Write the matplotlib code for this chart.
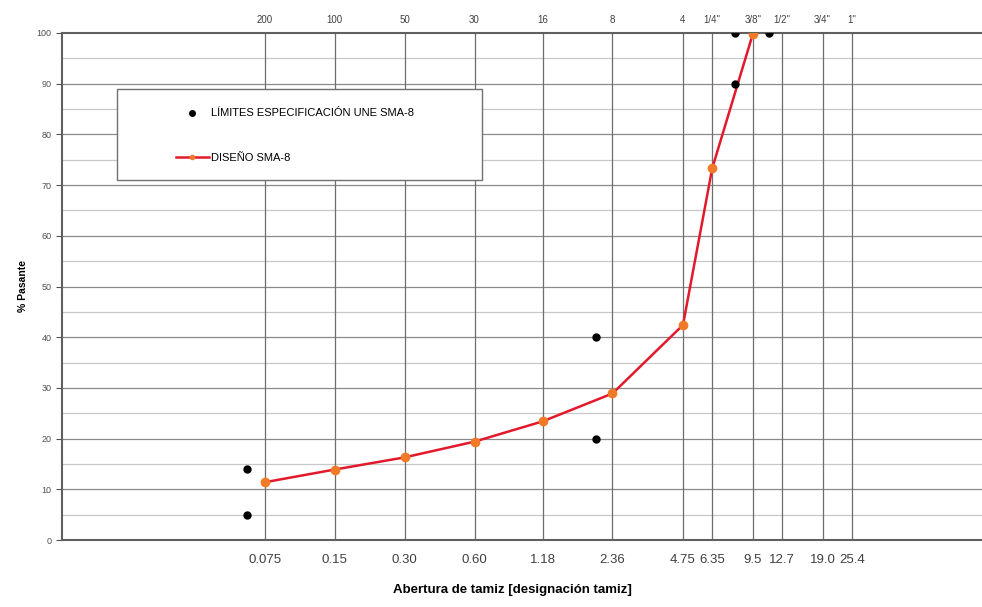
import matplotlib.pyplot as plt
from matplotlib.patches import Rectangle
from matplotlib.lines import Line2D

plt.rcParams['font.family'] = ['Liberation Sans', 'DejaVu Sans']

# sieve openings (mm) and names
sieves = [0.075, 0.15, 0.30, 0.60, 1.18, 2.36, 4.75, 6.35, 9.5, 12.7, 19.0, 25.4]
sieve_mm_labels = ["0.075", "0.15", "0.30", "0.60", "1.18", "2.36", "4.75", "6.35", "9.5", "12.7", "19.0", "25.4"]
sieve_names = ["200", "100", "50", "30", "16", "8", "4", '1/4"', '3/8"', '1/2"', '3/4"', '1"']

# design grading
design_x = [0.075, 0.15, 0.30, 0.60, 1.18, 2.36, 4.75, 6.35, 9.5]
design_y = [11.4, 13.9, 16.3, 19.4, 23.4, 28.9, 42.4, 73.3, 99.8]

# UNE SMA-8 specification limits
limit_x = [0.063, 0.063, 2.0, 2.0, 8.0, 8.0, 11.2]
limit_y = [5, 14, 20, 40, 90, 100, 100]

fig = plt.figure(figsize=(9.82, 6.07), dpi=100)
ax = fig.add_axes([62 / 982, 1 - 540 / 607, 1 - 62 / 982, (540 - 33) / 607])

ax.set_xscale('log')
ax.set_xlim(0.01, 92.4)
ax.set_ylim(0, 100)

# grid
for v in range(5, 100, 10):
    ax.axhline(v, color='#c8c8c8', lw=0.9, zorder=1)
for v in range(10, 100, 10):
    ax.axhline(v, color='#8a8a8a', lw=0.9, zorder=1)
for s in sieves:
    ax.axvline(s, color='#6e6e6e', lw=0.9, zorder=1)

ax.plot(design_x, design_y, color='#e3192b', lw=1.8, marker='o', ms=6,
        mfc='#f07a28', mec='#f07a28', zorder=3)
ax.plot(limit_x, limit_y, ls='none', marker='o', ms=5, color='black', zorder=4)

ax.set_yticks(range(0, 101, 10))
ax.tick_params(axis='y', labelsize=6.5, labelcolor='#505050', color='#505050',
               length=4, width=0.8, direction='out')
ax.set_xticks(sieves)
ax.set_xticklabels(sieve_mm_labels)
ax.minorticks_off()
ax.tick_params(axis='x', labelsize=9.5, labelcolor='#404040', length=0, pad=10)

ax.spines['right'].set_visible(False)
for side in ['left', 'bottom', 'top']:
    ax.spines[side].set_color('#606060')
    ax.spines[side].set_linewidth(1.5)

top = ax.secondary_xaxis('top')
top.set_xticks(sieves)
top.set_xticklabels(sieve_names)
top.minorticks_off()
top.tick_params(length=0, labelsize=7, labelcolor='#404040', pad=6)
top.spines['top'].set_visible(False)

ax.set_ylabel('% Pasante', fontsize=7.5, fontweight='bold', labelpad=6)
fig.text(512 / 982, 1 - 590 / 607, 'Abertura de tamiz [designación tamiz]',
         fontsize=9.5, fontweight='bold', ha='center', va='center')

# legend box
box = Rectangle((0.06, 0.71), 0.397, 0.18, transform=ax.transAxes, facecolor='white',
                edgecolor='#707070', lw=1.0, zorder=5)
ax.add_patch(box)
handles = [
    Line2D([], [], ls='none', marker='o', ms=4, color='black'),
    Line2D([], [], color='#e3192b', lw=1.8, marker='o', ms=3, mfc='#f07a28', mec='#f07a28'),
]
leg = ax.legend(handles, ['LÍMITES ESPECIFICACIÓN UNE SMA-8', 'DISEÑO SMA-8'],
                loc='upper left', bbox_to_anchor=((172 - 62) / 920 - 0.007, 0.871),
                frameon=False, fontsize=8, labelspacing=3.1, handlelength=3.0,
                handletextpad=0.2)
leg.set_zorder(6)

fig.savefig('out.png', dpi=100)
